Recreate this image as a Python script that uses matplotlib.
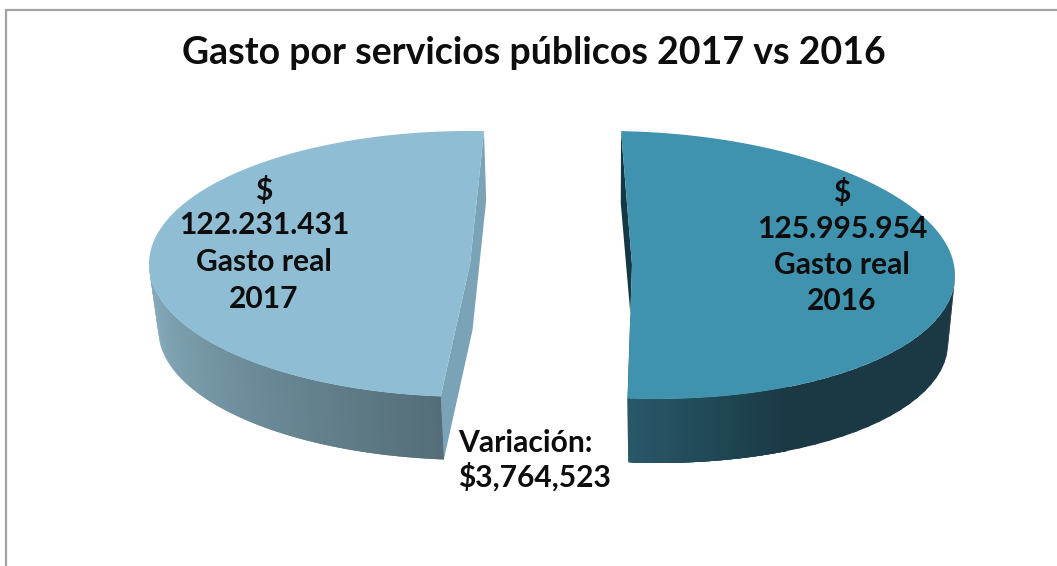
import numpy as np
import matplotlib
matplotlib.use("Agg")
import matplotlib.pyplot as plt

plt.rcParams['font.family'] = ['Lato', 'DejaVu Sans']

# data
years = ['2017', '2016']
gasto = [122231431, 125995954]
gasto_labels = ['122.231.431', '125.995.954']
variacion = '$3,764,523'
title = 'Gasto por servicios públicos 2017 vs 2016'

START_ANGLE = 87.5  # left slice starts here, runs counter clockwise


def project(theta, geo, level='top'):
    # ellipse with a small shear, the picture has some perspective in it
    cx, cy, a, b, k = geo[level]
    t = np.radians(theta)
    return cx + a * np.cos(t) + k * np.sin(t), cy - b * np.sin(t)


def lerp_color(c0, c1, f):
    return tuple((c0[i] + (c1[i] - c0[i]) * f) / 255 for i in range(3))


def draw_wall(ax, geo, wall_from, wall_to, theta_from, theta_to, n=90):
    # outer wall in thin strips to get the gradient
    steps = np.linspace(theta_from, theta_to, n)
    for i in range(n - 1):
        th = np.linspace(steps[i], min(steps[i + 1] + 1.0, theta_to), 4)
        x0, y0 = project(th, geo)
        x1, y1 = project(th[::-1], geo, 'low')
        f = i / (n - 2)
        ax.fill(np.r_[x0, x1], np.r_[y0, y1], color=lerp_color(wall_from, wall_to, f), lw=0)


def draw_cut(ax, geo, theta_a, theta_b, color):
    corners = [project(theta_a, geo), (geo['top'][0], geo['top'][1]), project(theta_b, geo)]
    lower = [project(theta_b, geo, 'low'), (geo['low'][0], geo['low'][1]), project(theta_a, geo, 'low')]
    xs, ys = zip(*(corners + lower))
    ax.fill(xs, ys, color=color, lw=0)


def draw_top(ax, geo, theta1, theta2, color):
    th = np.linspace(theta1, theta2, 240)
    x, y = project(th, geo)
    ax.fill(np.r_[x, geo['top'][0]], np.r_[y, geo['top'][1]], color=color, lw=0)


fig = plt.figure(figsize=(10.57, 5.66), dpi=100)
ax = fig.add_axes([0, 0, 1, 1])
ax.set_xlim(0, 1057)
ax.set_ylim(566, 0)
ax.axis('off')

# chart frame, only top and left are inside the crop
ax.plot([1057, 6, 6], [10, 10, 566], color='#a3a3a3', lw=1.6, solid_joinstyle='miter')

span = 360 * gasto[0] / sum(gasto)
split = START_ANGLE + span

geo_left = {'top': (470, 264, 321, 133, 0), 'low': (472.5, 330, 314, 130, 0)}
geo_right = {'top': (632, 265, 322, 134, -25), 'low': (632, 333, 315, 130, -25)}

draw_cut(ax, geo_left, START_ANGLE, split, '#7ba3b7')
draw_wall(ax, geo_left, (138, 176, 194), (84, 110, 120), 180, split)
draw_top(ax, geo_left, START_ANGLE, split, '#8fbdd3')

draw_cut(ax, geo_right, split, START_ANGLE, '#143944')
draw_wall(ax, geo_right, (26, 57, 69), (26, 57, 69), split + 29, 355.5, n=20)
draw_wall(ax, geo_right, (40, 88, 104), (26, 57, 69), split, split + 30)
draw_top(ax, geo_right, split, START_ANGLE + 360, '#3f93ae')

txt = dict(fontweight='bold', color='#0d0d0d', parse_math=False)
ax.text(534, 53, title, ha='center', va='center', fontsize=27, **txt)

line_y = {0: [190, 225, 262, 299], 1: [193, 229, 265, 301]}
centers = [264, 842]
for i, year in enumerate(years):
    lines = ['$', gasto_labels[i], 'Gasto real', year]
    for line, yy in zip(lines, line_y[i]):
        ax.text(centers[i], yy, line, ha='center', va='center', fontsize=21.6, **txt)

ax.text(458, 443, 'Variación:', ha='left', va='center', fontsize=21.6, **txt)
ax.text(458, 477, variacion, ha='left', va='center', fontsize=21.6, **txt)

fig.savefig('out.png', dpi=100, facecolor='white')
